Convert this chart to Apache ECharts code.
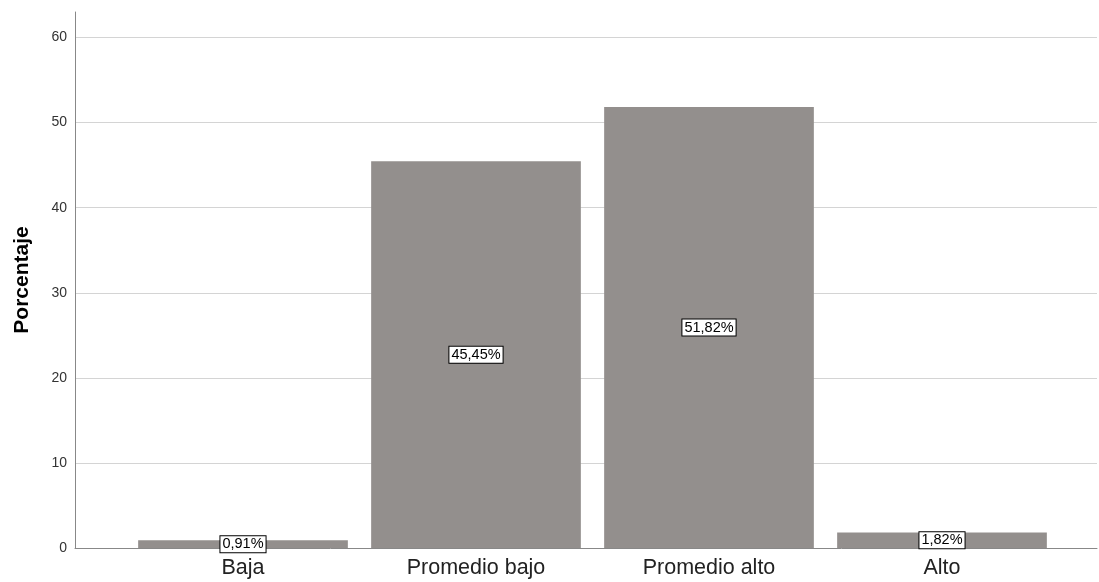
<!DOCTYPE html>
<html>
<head>
<meta charset="utf-8">
<script src="https://cdn.jsdelivr.net/npm/echarts@6/dist/echarts.min.js"></script>
<style>html,body{margin:0;padding:0;background:#fff;}#c{width:1099px;height:582px;}</style>
</head>
<body>
<div id="c"></div>
<script>
const categories = ['Baja', 'Promedio bajo', 'Promedio alto', 'Alto'];
const values = [0.91, 45.45, 51.82, 1.82];
const yTicks = [0, 10, 20, 30, 40, 50, 60];

const chart = echarts.init(document.getElementById('c'));
const font = 'Arial, "Liberation Sans", sans-serif';
chart.setOption({
  animation: false,
  backgroundColor: '#fff',
  grid: [
    {left: 75, right: 2, top: 12, bottom: 34, containLabel: false, outerBoundsMode: 'none'},
    {left: 126.5, right: 40.5, top: 12, bottom: 34, containLabel: false, outerBoundsMode: 'none'}
  ],
  xAxis: [
    {gridIndex: 0, type: 'value', min: 0, max: 1, axisLine: {show: true, onZero: false, lineStyle: {color: '#888', width: 1}},
     axisTick: {show: false}, axisLabel: {show: false}, splitLine: {show: false}},
    {gridIndex: 1, type: 'category', data: categories, boundaryGap: true,
     axisLine: {show: false}, axisTick: {show: false},
     axisLabel: {fontSize: 21.5, color: '#222', fontFamily: font, margin: 9}}
  ],
  yAxis: [
    {gridIndex: 0, type: 'value', min: 0, max: 63, interval: 10,
     name: 'Porcentaje', nameLocation: 'middle', nameGap: 42,
     nameTextStyle: {fontSize: 21, fontWeight: 'bold', color: '#000', fontFamily: font},
     axisLine: {show: true, lineStyle: {color: '#888', width: 1}},
     axisTick: {show: false},
     axisLabel: {fontSize: 14, color: '#333', fontFamily: font, margin: 8, showMaxLabel: false,
       formatter: v => yTicks.includes(v) ? String(v) : ''},
     splitLine: {show: true, showMaxLine: false, showMinLine: false, lineStyle: {color: '#d4d4d4', width: 1}}},
    {gridIndex: 1, type: 'value', min: 0, max: 63, show: false, splitLine: {show: false}}
  ],
  series: [{
    type: 'bar', xAxisIndex: 1, yAxisIndex: 1, data: values,
    barCategoryGap: '10%',
    itemStyle: {color: '#938f8d'},
    label: {show: true, position: 'inside', fontSize: 14.5, color: '#000', fontFamily: font,
      backgroundColor: '#fff', borderColor: '#000', borderWidth: 1, padding: [1, 2, 0, 2],
      formatter: p => p.value.toFixed(2).replace('.', ',') + '%'}
  }]
});
</script>
</body>
</html>
